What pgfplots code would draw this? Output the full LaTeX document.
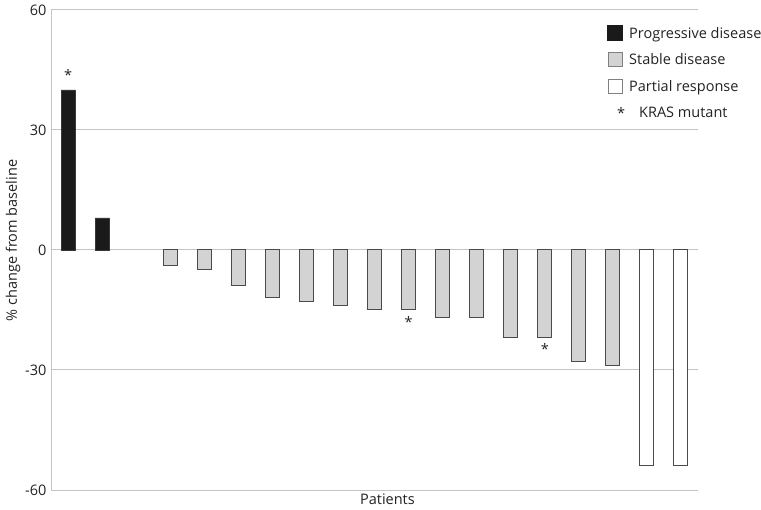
\documentclass[border=0pt]{standalone}
\usepackage{pgfplots}
\pgfplotsset{compat=1.18}
\usepackage{fontspec}
\setmainfont{Open Sans}
\definecolor{gridc}{HTML}{C4C4C4}
\definecolor{progc}{HTML}{1A1A1A}
\definecolor{stabc}{HTML}{D3D3D3}
\definecolor{edgec}{HTML}{4A4A4A}
\definecolor{txtc}{HTML}{222222}
\newcommand{\chfont}{\fontsize{14.5bp}{17bp}\selectfont}
\begin{document}
\begin{tikzpicture}[font=\chfont]
\useasboundingbox (-51bp,-20bp) rectangle (710bp,490bp);
\begin{axis}[
  at={(0,0)}, anchor=south west,
  scale only axis, width=647bp, height=480bp,
  xmin=-0.5, xmax=18.5, ymin=-60, ymax=60,
  axis y line*=left, axis x line*=bottom,
  x axis line style={draw=none},
  y axis line style={draw=gridc, line width=1bp},
  ytick={-60,-30,0,30,60},
  yticklabels={-60,-30,0,30,60},
  xtick=\empty,
  major tick length=0pt,
  ymajorgrids, grid style={draw=gridc, line width=1bp},
  yticklabel style={text=txtc, font=\chfont, xshift=-1bp},
  ylabel={\% change from baseline},
  ylabel style={text=txtc, font=\chfont, at={(ticklabel cs:0.52)}, yshift=-2bp},
  xlabel={Patients},
  xlabel style={text=txtc, font=\chfont, at={(axis description cs:0.52,0)}, yshift=0bp},
  clip=false,
  legend style={at={(556bp,465bp)}, anchor=north west, draw=none, fill=none,
    text=txtc, font=\chfont, row sep=10bp, inner sep=0pt,
    nodes={inner sep=2bp, anchor=west}},
  legend cell align=left,
]
\addplot[ybar, bar width=14bp, bar shift=0pt, fill=progc, draw=progc!70!gray, line width=0.6bp,
  legend image code/.code={\draw[fill=progc, draw=progc] (0bp,-7bp) rectangle (15bp,8bp);}]
  coordinates {(0,40) (1,8)};
\addlegendentry{Progressive disease}
\addplot[ybar, bar width=14bp, bar shift=0pt, fill=stabc, draw=edgec, line width=1bp,
  legend image code/.code={\draw[fill=stabc, draw=edgec!70!white, line width=1bp] (0.5bp,-6.5bp) rectangle (14.5bp,7.5bp);}]
  coordinates {(3,-4) (4,-5) (5,-9) (6,-12) (7,-13) (8,-14) (9,-15) (10,-15) (11,-17) (12,-17) (13,-22) (14,-22) (15,-28) (16,-29)};
\addlegendentry{Stable disease}
\addplot[ybar, bar width=14bp, bar shift=0pt, fill=white, draw=edgec, line width=1bp,
  legend image code/.code={\draw[fill=white, draw=edgec!70!white, line width=0.8bp] (0.5bp,-6.5bp) rectangle (14.5bp,7.5bp);}]
  coordinates {(17,-54) (18,-54)};
\addlegendentry{Partial response}
\addplot[draw=none, mark=none, nodes near coords={*}, nodes near coords align={center},
  every node near coord/.append style={text=txtc, inner sep=0pt},
  legend image code/.code={\node[text=txtc] at (7.5bp,-1bp) {*};}]
  coordinates {(0,43.8) (10,-18) (14,-24.7)};
\addlegendentry{\hspace{10bp}KRAS mutant}
\end{axis}
\end{tikzpicture}
\end{document}
